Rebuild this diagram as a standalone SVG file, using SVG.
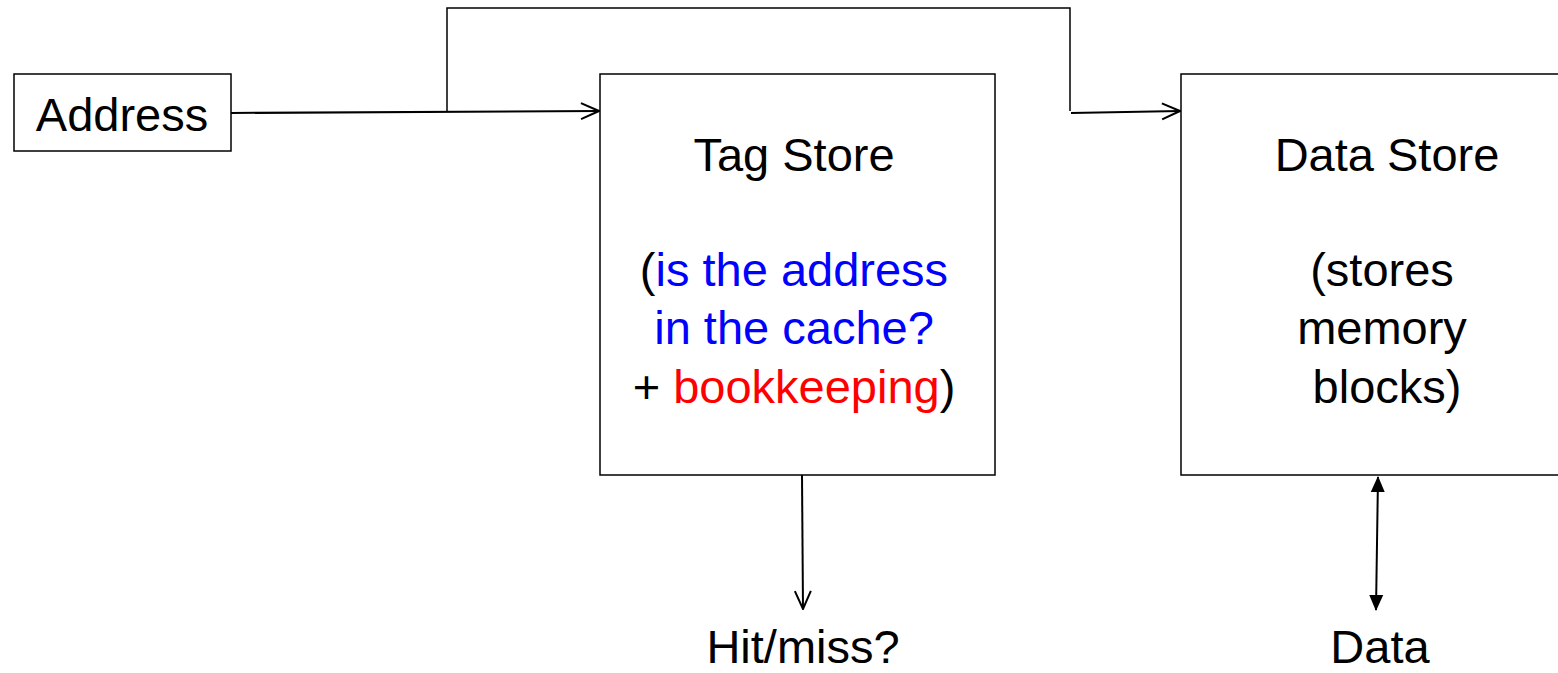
<svg xmlns="http://www.w3.org/2000/svg" width="1558" height="673" viewBox="0 0 1558 673">
<style>
.box{fill:#fff;stroke:#000;stroke-width:1.5}
.t{font-family:"Liberation Sans",Arial,sans-serif;font-size:47px;fill:#000;text-anchor:middle}
.b{fill:#0000ff}.r{fill:#ff0000}
.c{fill:none;stroke:#000;stroke-width:2}
.w{fill:none;stroke:#000;stroke-width:1.5}
</style>
<defs>
<marker id="open" viewBox="0 0 20 20" refX="19" refY="10" markerWidth="20" markerHeight="20" markerUnits="userSpaceOnUse" orient="auto">
<path d="M1,2 L19,10 L1,18" fill="none" stroke="#000" stroke-width="2"/>
</marker>
<marker id="fill" viewBox="0 0 16 16" refX="15" refY="8" markerWidth="16" markerHeight="16" markerUnits="userSpaceOnUse" orient="auto-start-reverse">
<path d="M0,1 L16,8 L0,15 Z" fill="#000"/>
</marker>
</defs>
<g id="address">
<rect class="box" x="14" y="74" width="217" height="77"/>
<text class="t" x="122" y="131">Address</text>
</g>
<g id="tagstore">
<rect class="box" x="600" y="74" width="395" height="401"/>
<text class="t" x="794" y="171">Tag Store</text>
<text class="t" x="794" y="286">(<tspan class="b">is the address</tspan></text>
<text class="t b" x="794" y="344">in the cache?</text>
<text class="t" x="794" y="403">+ <tspan class="r">bookkeeping</tspan>)</text>
</g>
<g id="datastore">
<rect class="box" x="1181" y="74" width="380" height="401"/>
<text class="t" x="1387" y="171">Data Store</text>
<text class="t" x="1382" y="286">(stores</text>
<text class="t" x="1382" y="344">memory</text>
<text class="t" x="1387" y="403">blocks)</text>
</g>
<g id="hitmiss">
<text class="t" x="803" y="663">Hit/miss?</text>
</g>
<g id="data">
<text class="t" x="1380" y="663">Data</text>
</g>
<g id="connectors">
<path class="c" d="M231,113 L599,111" marker-end="url(#open)"/>
<path class="w" d="M447,112 L447,8 L1070,8 L1070,111"/>
<path class="c" d="M1071,113 L1180,111" marker-end="url(#open)"/>
<path class="c" d="M802,475 L803,609" marker-end="url(#open)"/>
<path class="c" d="M1378,477 L1376,610" marker-start="url(#fill)" marker-end="url(#fill)"/>
</g>
</svg>
